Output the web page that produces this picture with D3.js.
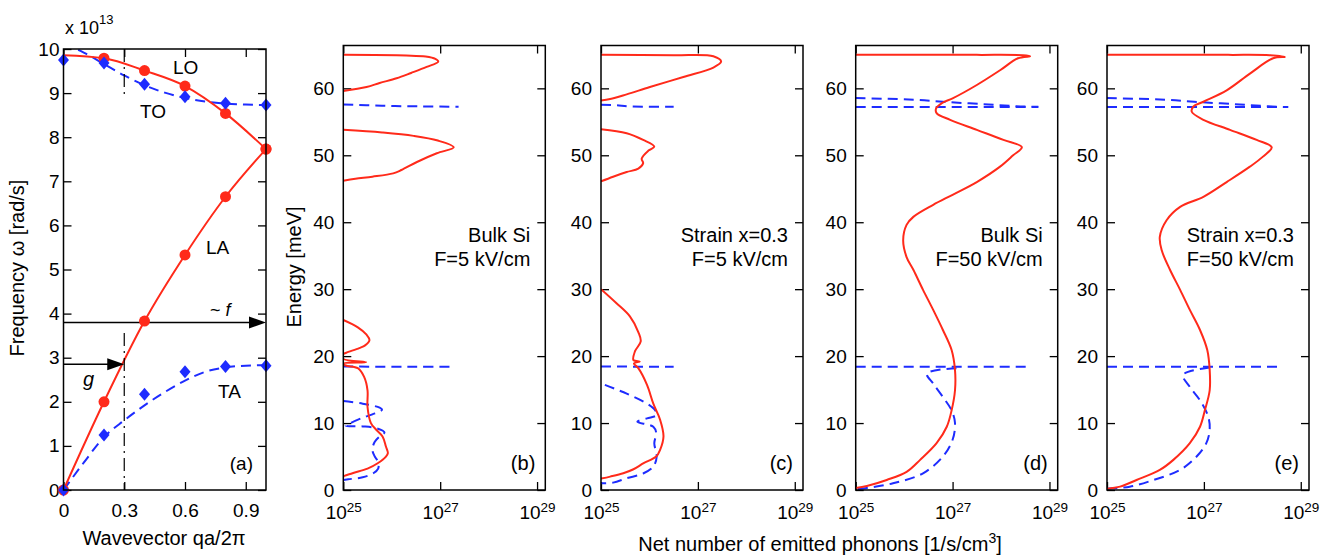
<!DOCTYPE html>
<html><head><meta charset="utf-8">
<script src="https://cdn.jsdelivr.net/npm/d3@7"></script>
<style>
body{margin:0;background:#fff}
svg text{font-family:"Liberation Sans",Arial,Helvetica,sans-serif;fill:#000}
</style></head>
<body><svg id="c" width="1340" height="556"></svg>
<script>
// ---------------- DATA ----------------
// Panel (a): dispersion, q in units of 2pi/a, omega in 1e13 rad/s
const qMarks  = [0, 0.2, 0.4, 0.6, 0.8, 1.0];
const loMarks = [null, 9.79, 9.51, 9.16, 8.54, 7.73];
const laMarks = [0, 2.00, 3.83, 5.33, 6.65, 7.73];
const toMarks = [9.75, 9.68, 9.20, 8.92, 8.77, 8.73];
const taMarks = [0, 1.25, 2.17, 2.68, 2.80, 2.82];
const loLine  = [9.86, 9.79, 9.51, 9.16, 8.54, 7.73];
const qFit    = [0, 0.1, 0.2, 0.3, 0.4, 0.5, 0.6, 0.7, 0.8, 0.9, 1.0];
const toFit   = [10.12, 9.92, 9.66, 9.40, 9.18, 9.01, 8.89, 8.81, 8.76, 8.74, 8.73];
const taFit   = [0, 0.62, 1.20, 1.58, 1.92, 2.22, 2.48, 2.68, 2.78, 2.82, 2.83];
const fLevel = 3.8, gLevel = 2.85, qCut = 0.3, cutTop = [10, 8.88], cutLow = 3.56;
const aXTicks = [0, 0.3, 0.6, 0.9];
const aYTicks = [0, 1, 2, 3, 4, 5, 6, 7, 8, 9, 10];
const eTicks  = [0, 10, 20, 30, 40, 50, 60];
const nTicks  = [25, 27, 29];           // exponents of 10
const aLabels = ["LO", "TO", "LA", "TA", "(a)"];

// Panels (b)-(e): [energy meV, log10(net emitted phonons 1/s/cm^3)]
const bRed1 = [[65.0,25.0],[64.9,26.3],[64.75,26.7],[64.4,26.9],[64.0,26.96],[63.2,26.72],[62.3,26.4],[61.5,26.1],[60.8,25.75],[60.2,25.48],[59.6,25.0]];
const bRed2 = [[53.8,25.0],[53.4,25.8],[52.9,26.45],[52.2,26.95],[51.2,27.28],[50.3,26.93],[49.0,26.52],[47.8,26.2],[47.3,26.03],[46.8,25.6],[46.5,25.25],[46.2,25.0]];
const bRed3 = [[25.4,25.0],[24.3,25.3],[23.2,25.48],[22.4,25.54],[21.6,25.45],[21.2,25.33],[20.5,25.06],[20.3,25.0],[19.6,25.0],[19.1,25.47],[18.9,25.0],[18.6,25.05],[18.2,25.3],[16.9,25.43],[14.9,25.5],[12.4,25.5],[10.0,25.57],[9.0,25.68],[8.0,25.81],[6.5,25.88],[5.5,25.92],[5.0,25.88],[4.0,25.71],[3.2,25.5],[2.5,25.19],[2.0,25.0],[1.8,25.0]];
const bBlue1 = [[57.6,25.0],[57.4,25.8],[57.3,26.6],[57.25,27.38]];
const bBlue2 = [[18.45,25.0],[18.4,26.5],[18.4,27.31]];
const bBlue3 = [[13.3,25.0],[12.9,25.4],[12.3,25.75],[12.0,25.8],[11.3,25.6],[10.8,25.4],[10.0,25.15],[9.6,25.05],[9.5,25.4],[9.2,25.7],[8.6,25.85],[8.0,25.75],[7.2,25.65],[6.0,25.6],[5.0,25.65],[4.2,25.72],[3.2,25.72],[2.5,25.62],[1.9,25.4],[1.6,25.1],[1.5,25.0]];

const cRed1 = [[65.0,25.0],[64.95,26.5],[64.8,27.32],[64.0,27.48],[63.1,27.32],[61.7,26.7],[60.2,26.01],[59.1,25.53],[58.4,25.19],[58.2,25.0]];
const cRed2 = [[53.9,25.0],[53.3,25.53],[52.3,25.87],[51.3,26.1],[50.7,25.98],[49.5,25.84],[48.8,25.87],[48.0,25.77],[47.5,25.53],[46.8,25.25],[46.1,25.0]];
const cRed3 = [[30.0,25.0],[27.9,25.32],[25.9,25.6],[23.6,25.77],[22.2,25.82],[20.7,25.7],[19.4,25.67],[19.2,25.8],[18.9,25.68],[18.2,25.77],[15.7,25.95],[12.9,26.08],[10.5,26.22],[8.0,26.29],[6.0,26.22],[5.0,26.14],[4.0,25.88],[3.1,25.67],[2.5,25.46],[2.0,25.19],[1.7,25.0]];
const cBlue1 = [[57.55,25.0],[57.5,25.3],[57.3,25.6],[57.25,26.5]];
const cBlue2 = [[18.45,25.0],[18.4,26.5]];
const cBlue3 = [[15.7,25.08],[14.4,25.53],[12.9,25.95],[11.9,26.12],[11.2,26.15],[10.7,25.95],[10.2,25.75],[9.45,26.08],[8.5,26.14],[7.0,26.1],[5.0,26.15],[3.5,26.08],[2.5,25.88],[1.75,25.53],[1.1,25.25],[1.0,25.0]];

const dRed = [[65.0,25.0],[65.0,27.5],[64.95,28.45],[64.8,28.6],[64.5,28.35],[62.7,27.98],[60.5,27.5],[58.5,27.0],[57.8,26.78],[57.0,26.66],[56.3,26.67],[55.3,26.95],[53.8,27.5],[52.3,28.05],[51.2,28.43],[50.0,28.25],[48.3,27.98],[46.0,27.5],[44.1,27.0],[42.6,26.6],[40.8,26.19],[39.6,26.05],[37.3,25.98],[34.8,26.05],[32.9,26.19],[29.9,26.39],[26.9,26.6],[23.9,26.8],[20.9,26.98],[17.9,27.05],[14.9,27.05],[11.9,26.98],[9.45,26.88],[7.0,26.67],[4.5,26.33],[2.7,26.05],[1.5,25.64],[0.6,25.23],[0.3,25.0]];
const dBlue1 = [[58.55,25.0],[58.3,26.2],[58.0,26.8],[57.5,27.95],[57.3,28.4],[57.25,28.77]];
const dBlue2 = [[57.2,25.0],[57.2,28.77]];
const dBlue3 = [[18.4,25.0],[18.4,28.53]];
const dBlue4 = [[18.2,27.08],[17.4,26.47],[15.9,26.6],[13.9,26.8],[11.9,26.98],[10.0,27.05],[7.5,27.0],[5.0,26.8],[2.5,26.39],[1.0,25.77],[0.3,25.23],[0.1,25.0]];

const eRed = [[65.0,25.0],[65.0,27.5],[64.95,28.36],[64.7,28.67],[64.5,28.43],[62.2,27.95],[59.7,27.47],[58.0,26.99],[57.25,26.78],[56.5,26.75],[55.3,26.99],[53.8,27.54],[52.3,28.09],[51.2,28.4],[49.8,28.22],[48.3,27.95],[46.0,27.47],[43.8,26.99],[42.3,26.51],[40.3,26.23],[37.8,26.09],[35.8,26.13],[32.9,26.3],[29.9,26.51],[26.9,26.71],[23.9,26.92],[20.9,27.07],[17.9,27.12],[14.9,27.12],[11.9,27.02],[9.45,26.92],[7.0,26.71],[4.5,26.37],[3.0,26.09],[1.5,25.61],[0.5,25.27],[0.2,25.0]];
const eBlue1 = [[58.55,25.0],[58.3,26.2],[58.0,26.8],[57.5,27.95],[57.3,28.4],[57.2,28.74]];
const eBlue2 = [[57.2,25.0],[57.2,28.74]];
const eBlue3 = [[18.4,25.0],[18.4,28.6]];
const eBlue4 = [[18.3,27.12],[17.2,26.57],[15.4,26.71],[13.4,26.92],[10.95,27.09],[9.0,27.12],[7.0,27.05],[5.0,26.85],[3.0,26.51],[1.5,25.96],[0.5,25.47],[0.2,25.0]];

const panelIds   = ["b", "c", "d", "e"];
const panelNote1 = ["Bulk Si", "Strain x=0.3", "Bulk Si", "Strain x=0.3"];
const panelNote2 = ["F=5 kV/cm", "F=5 kV/cm", "F=50 kV/cm", "F=50 kV/cm"];
const panelRed   = [[bRed1, bRed2, bRed3], [cRed1, cRed2, cRed3], [dRed], [eRed]];
const panelBlue  = [[bBlue1, bBlue2, bBlue3], [cBlue1, cBlue2, cBlue3], [dBlue1, dBlue2, dBlue3, dBlue4], [eBlue1, eBlue2, eBlue3, eBlue4]];

// ---------------- DRAW ----------------
const RED = "#ff2a1a", BLUE = "#1e2cff";
const svg = d3.select("#c");
const TICK = 8;
const TFS = 19;

function styleAxis(g, fs) {
  g.select(".domain").remove();
  g.selectAll(".tick line").attr("stroke", "#000").attr("stroke-width", 1.3);
  g.selectAll(".tick text").attr("font-size", fs).attr("font-family", null).attr("fill", "#000");
  g.attr("font-family", null).attr("font-size", null);
}

// ---- Panel (a)
const ax = d3.scaleLinear().domain([0, 1]).range([63.5, 266]);
const ay = d3.scaleLinear().domain([0, 10]).range([490, 49]);
const ga = svg.append("g");
svg.append("defs").append("clipPath").attr("id", "clipA").append("rect")
  .attr("x", ax(0)).attr("y", ay(10)).attr("width", ax(1) - ax(0)).attr("height", ay(0) - ay(10));

ga.append("g").attr("transform", `translate(0,${ay(0)})`)
  .call(d3.axisBottom(ax).tickValues(aXTicks).tickSize(-TICK).tickPadding(14).tickFormat(d3.format("")))
  .call(g => styleAxis(g, TFS));
ga.append("g").attr("transform", `translate(0,${ay(10)})`)
  .call(d3.axisTop(ax).tickValues(aXTicks).tickSize(-TICK).tickFormat(""))
  .call(g => styleAxis(g, TFS));
ga.append("g").attr("transform", `translate(${ax(0)},0)`)
  .call(d3.axisLeft(ay).tickValues(aYTicks).tickSize(-TICK).tickPadding(4))
  .call(g => styleAxis(g, TFS));
ga.append("g").attr("transform", `translate(${ax(1)},0)`)
  .call(d3.axisRight(ay).tickValues(aYTicks).tickSize(-TICK).tickFormat(""))
  .call(g => styleAxis(g, TFS));

const pa = ga.append("g").attr("clip-path", "url(#clipA)");
const lnA = d3.line().x(d => ax(d[0])).y(d => ay(d[1])).curve(d3.curveMonotoneX);
const lnLin = d3.line().x(d => ax(d[0])).y(d => ay(d[1]));

// dash-dot guide at q = 0.3
ga.append("path").attr("d", lnLin([[qCut, cutTop[0]], [qCut, cutTop[1]]]))
  .attr("stroke", "#000").attr("stroke-width", 1.2).attr("stroke-dasharray", "13,5,2,5").attr("fill", "none");
ga.append("path").attr("d", lnLin([[qCut, cutLow], [qCut, 0]]))
  .attr("stroke", "#000").attr("stroke-width", 1.2).attr("stroke-dasharray", "13,5,2,5").attr("fill", "none");

pa.append("path").attr("d", lnA(qFit.map((q, i) => [q, toFit[i]])))
  .attr("fill", "none").attr("stroke", BLUE).attr("stroke-width", 2).attr("stroke-dasharray", "10,6");
pa.append("path").attr("d", lnA(qFit.map((q, i) => [q, taFit[i]])))
  .attr("fill", "none").attr("stroke", BLUE).attr("stroke-width", 2).attr("stroke-dasharray", "10,6");
pa.append("path").attr("d", lnA(qMarks.map((q, i) => [q, loLine[i]])))
  .attr("fill", "none").attr("stroke", RED).attr("stroke-width", 2);
pa.append("path").attr("d", lnA(qMarks.map((q, i) => [q, laMarks[i]])))
  .attr("fill", "none").attr("stroke", RED).attr("stroke-width", 2);

// arrows
function arrow(q0, q1, w) {
  const y = ay(w), x0 = ax(q0), x1 = ax(q1);
  ga.append("line").attr("x1", x0).attr("x2", x1 - 10).attr("y1", y).attr("y2", y)
    .attr("stroke", "#000").attr("stroke-width", 1.5);
  ga.append("path").attr("d", `M${x1},${y} L${x1 - 17},${y - 6} L${x1 - 17},${y + 6} Z`).attr("fill", "#000");
}
arrow(0, 1, fLevel);
arrow(0, qCut, gLevel);

// markers
const circ = (arr) => ga.append("g").selectAll("circle")
  .data(qMarks.map((q, i) => [q, arr[i]]).filter(d => d[1] !== null))
  .join("circle").attr("cx", d => ax(d[0])).attr("cy", d => ay(d[1])).attr("r", 5.5).attr("fill", RED);
const diam = (arr) => ga.append("g").selectAll("path")
  .data(qMarks.map((q, i) => [q, arr[i]]))
  .join("path").attr("d", d => { const x = ax(d[0]), y = ay(d[1]); return `M${x},${y - 6.5}L${x + 5.5},${y}L${x},${y + 6.5}L${x - 5.5},${y}Z`; })
  .attr("fill", BLUE);
circ(loMarks); circ(laMarks); diam(toMarks); diam(taMarks);

ga.append("rect").attr("x", ax(0)).attr("y", ay(10)).attr("width", ax(1) - ax(0)).attr("height", ay(0) - ay(10))
  .attr("fill", "none").attr("stroke", "#000").attr("stroke-width", 1.5);

// labels (a)
const aLabelPos = [[173, 74, "start"], [140, 118, "start"], [206, 254, "start"], [218, 398, "start"], [253, 470, "end"]];
aLabels.forEach((t, i) => ga.append("text").attr("x", aLabelPos[i][0]).attr("y", aLabelPos[i][1])
  .attr("text-anchor", aLabelPos[i][2]).attr("font-size", 19).text(t));
const ft = ga.append("text").attr("x", 210).attr("y", 316).attr("font-size", 18);
ft.append("tspan").text("~ ");
ft.append("tspan").attr("font-style", "italic").text("f");
ga.append("text").attr("x", 83).attr("y", 386).attr("font-size", 20).attr("font-style", "italic").text("g");
const xt = ga.append("text").attr("x", 65).attr("y", 34).attr("font-size", 18);
xt.append("tspan").text("x 10");
xt.append("tspan").attr("font-size", 13).attr("dy", -10).text("13");
ga.append("text").attr("transform", `translate(24,268) rotate(-90)`).attr("text-anchor", "middle")
  .attr("font-size", 20).text("Frequency ω [rad/s]");
ga.append("text").attr("x", 164).attr("y", 545).attr("text-anchor", "middle").attr("font-size", 20).text("Wavevector qa/2π");

// ---- Panels (b)-(e)
const panelLeft = [343.3, 601, 855.7, 1107];
const PW = 202;
const ey = d3.scaleLinear().domain([0, 66.4]).range([490, 45.5]);

panelIds.forEach((id, k) => {
  const x0 = panelLeft[k];
  const nx = d3.scaleLog().domain([1e25, Math.pow(10, 29.17)]).range([x0, x0 + PW]);
  const g = svg.append("g");
  svg.select("defs").append("clipPath").attr("id", "clip" + id).append("rect")
    .attr("x", x0).attr("y", ey(66.4)).attr("width", PW).attr("height", ey(0) - ey(66.4));
  const tv = nTicks.map(e => Math.pow(10, e));
  g.append("g").attr("transform", `translate(0,${ey(0)})`)
    .call(d3.axisBottom(nx).tickValues(tv).tickSize(-TICK).tickPadding(16).tickFormat(() => ""))
    .call(a => styleAxis(a, TFS))
    .call(a => a.selectAll(".tick text").each(function (d) {
      const t = d3.select(this);
      t.append("tspan").text("10");
      t.append("tspan").attr("font-size", 13.5).attr("dy", "-0.55em").text(String(Math.round(Math.log10(d))));
    }));
  g.append("g").attr("transform", `translate(0,${ey(66.4)})`)
    .call(d3.axisTop(nx).tickValues(tv).tickSize(-TICK).tickFormat(""))
    .call(a => styleAxis(a, TFS));
  g.append("g").attr("transform", `translate(${x0},0)`)
    .call(d3.axisLeft(ey).tickValues(eTicks).tickSize(-TICK).tickPadding(9))
    .call(a => styleAxis(a, TFS));
  g.append("g").attr("transform", `translate(${x0 + PW},0)`)
    .call(d3.axisRight(ey).tickValues(eTicks).tickSize(-TICK).tickFormat(""))
    .call(a => styleAxis(a, TFS));

  const p = g.append("g").attr("clip-path", `url(#clip${id})`);
  const ln = d3.line().x(d => nx(Math.pow(10, d[1]))).y(d => ey(d[0])).curve(d3.curveCatmullRom.alpha(0.5));
  panelBlue[k].forEach(s => p.append("path").attr("d", ln(s)).attr("fill", "none")
    .attr("stroke", BLUE).attr("stroke-width", 2).attr("stroke-dasharray", "10,6"));
  panelRed[k].forEach(s => p.append("path").attr("d", ln(s)).attr("fill", "none")
    .attr("stroke", RED).attr("stroke-width", 2));

  g.append("rect").attr("x", x0).attr("y", ey(66.4)).attr("width", PW).attr("height", ey(0) - ey(66.4))
    .attr("fill", "none").attr("stroke", "#000").attr("stroke-width", 1.5);

  const rx = x0 + PW - 15;
  g.append("text").attr("x", rx).attr("y", 242).attr("text-anchor", "end").attr("font-size", 20).text(panelNote1[k]);
  g.append("text").attr("x", rx).attr("y", 266).attr("text-anchor", "end").attr("font-size", 20).text(panelNote2[k]);
  g.append("text").attr("x", x0 + PW - 10).attr("y", 470).attr("text-anchor", "end").attr("font-size", 20).text(`(${id})`);
});

svg.append("text").attr("transform", `translate(301,267) rotate(-90)`).attr("text-anchor", "middle")
  .attr("font-size", 20).text("Energy [meV]");
const nl = svg.append("text").attr("x", 820).attr("y", 551).attr("text-anchor", "middle").attr("font-size", 20);
nl.append("tspan").text("Net number of emitted phonons [1/s/cm");
nl.append("tspan").attr("font-size", 14).attr("dy", -8).text("3");
nl.append("tspan").attr("dy", 8).text("]");
</script></body></html>
